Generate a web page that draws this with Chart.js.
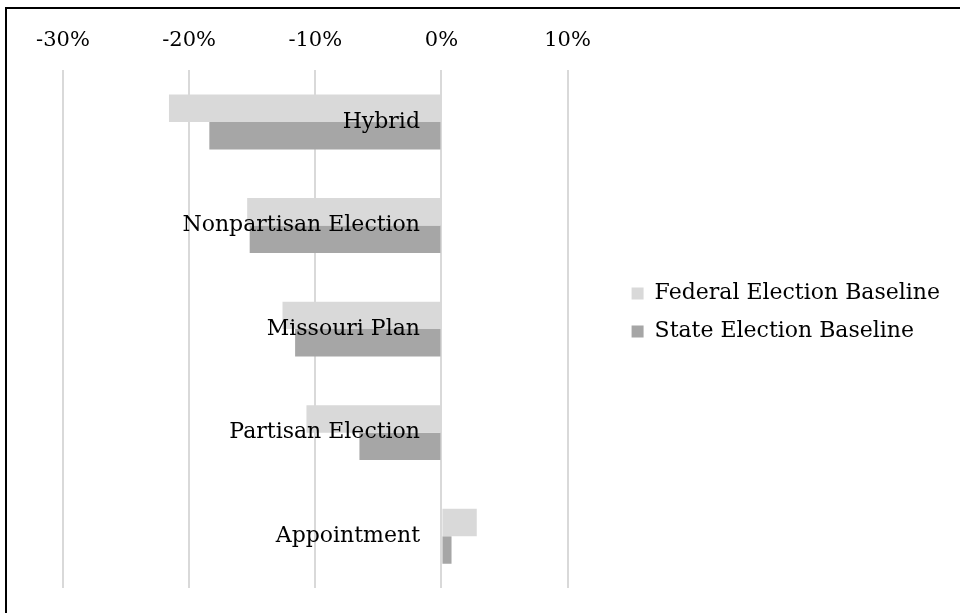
<!DOCTYPE html>
<html>
<head>
<meta charset="utf-8">
<script src="https://cdn.jsdelivr.net/npm/chart.js@4.4.1/dist/chart.umd.min.js"></script>
<style>
  html, body { margin: 0; padding: 0; background: #fff; overflow: hidden; }
  #wrap { position: relative; width: 960px; height: 613px; overflow: hidden; }
  #frame { position: absolute; left: 5px; top: 7px; width: 1200px; height: 1200px; border: 2px solid #000; pointer-events: none; }
</style>
</head>
<body>
<div id="wrap">
  <canvas id="chart" width="960" height="613"></canvas>
  <div id="frame"></div>
</div>
<script>
const categories = ['Hybrid', 'Nonpartisan Election', 'Missouri Plan', 'Partisan Election', 'Appointment'];
const federalBaseline = [-21.6, -15.4, -12.6, -10.7, 2.8];
const stateBaseline = [-18.4, -15.2, -11.6, -6.5, 0.8];
const xTicks = [-30, -20, -10, 0, 10];

Chart.defaults.font.family = "'DejaVu Serif', serif";
Chart.defaults.font.size = 22;
Chart.defaults.color = '#000';

// legend sits a bit right of the plot, like the original
const legendShift = {
  id: 'legendShift',
  afterLayout(chart) {
    const lg = chart.legend;
    lg.left += 48;
    lg.right += 48;
    lg.top += 13;
    lg.bottom += 13;
  }
};

new Chart(document.getElementById('chart'), {
  type: 'bar',
  data: {
    labels: categories,
    datasets: [
      {
        label: 'Federal Election Baseline',
        data: federalBaseline,
        backgroundColor: '#d9d9d9',
        categoryPercentage: 0.53,
        barPercentage: 1
      },
      {
        label: 'State Election Baseline',
        data: stateBaseline,
        backgroundColor: '#a6a6a6',
        categoryPercentage: 0.53,
        barPercentage: 1
      }
    ]
  },
  options: {
    indexAxis: 'y',
    responsive: false,
    animation: false,
    devicePixelRatio: 1,
    layout: { padding: { top: 11, right: 58, bottom: 25, left: 63 } },
    plugins: {
      tooltip: { enabled: false },
      legend: {
        position: 'right',
        maxWidth: 400,
        labels: { boxWidth: 12, boxHeight: 12, padding: 16, color: '#000' }
      }
    },
    scales: {
      x: {
        position: 'top',
        min: -30,
        max: 10,
        afterBuildTicks: axis => { axis.ticks = xTicks.map(v => ({ value: v })); },
        ticks: { callback: v => v + '%', padding: 17, color: '#000', font: { size: 21 } },
        grid: { color: '#d9d9d9', lineWidth: 2, drawTicks: false },
        border: { display: false }
      },
      y: {
        // category names sit just left of the zero line
        position: { x: -1.7 },
        grid: { display: false, drawTicks: false },
        border: { display: false },
        ticks: { padding: 0, color: '#000', z: 1 }
      }
    }
  },
  plugins: [legendShift]
});
</script>
</body>
</html>
